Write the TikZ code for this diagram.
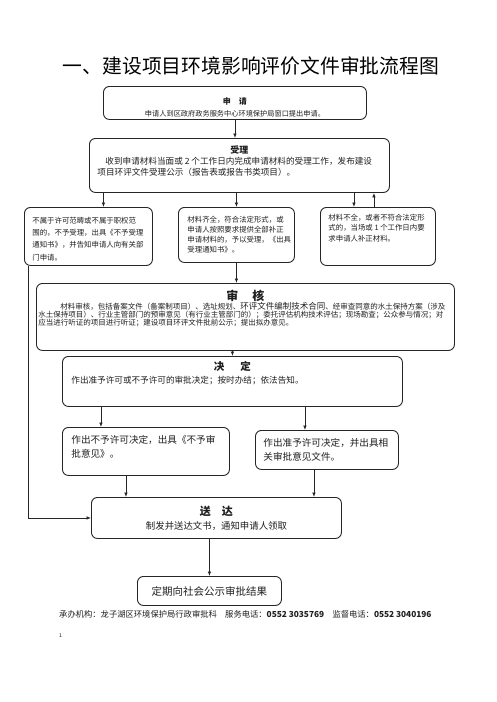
\documentclass[tikz,border=0pt]{standalone}
\usepackage{fontspec}
\setmainfont{Noto Sans CJK SC}
\usetikzlibrary{arrows.meta,calc}
\newcommand\fs[2]{\fontsize{#1pt}{#2pt}\selectfont}
\newcommand\bxc[3]{\parbox[c][#2pt][t]{#1pt}{#3}}
\begin{document}
\begin{tikzpicture}[x=1pt,y=-1pt,
  bx/.style={draw=black!85, line width=0.9pt, rounded corners=6pt, anchor=north west, inner sep=0pt, text=black!88},
  arr/.style={draw=black!85, line width=0.8pt, -{Latex[length=4.5pt,width=3.6pt]}},
  ln/.style={draw=black!85, line width=0.8pt}]
\useasboundingbox (0,0) rectangle (496,702);
\fill[white] (0,0) rectangle (496,702);

\node[anchor=base, inner sep=0pt] (title) at (251,73) {\fs{19.8}{20}一、建设项目环境影响评价文件审批流程图};

\node[bx] (n1) at (103,86) {\bxc{263}{33}{%
  \fs{8}{12}\centerline{\rule{0pt}{18pt}\textbf{申\quad 请}}%
  \fs{7.2}{12}\centerline{申请人到区政府政务服务中心环境保护局窗口提出申请。}}};

\node[bx] (n2) at (89,138) {\bxc{300}{54}{%
  \fs{9}{11}\centerline{\rule{0pt}{15pt}\textbf{受理}}%
  \fs{8.6}{11}\leftskip=8pt\noindent\hspace*{8pt}收到申请材料当面或 2 个工作日内完成申请材料的受理工作，发布建设\\
  项目环评文件受理公示（报告表或报告书类项目）。\par}};

\node[bx] (b1) at (24,207) {\bxc{128}{58}{%
  \fs{7.4}{12.2}\leftskip=8pt\noindent\rule{0pt}{16pt}不属于许可范畴或不属于职权范\\
  围的，不予受理，出具《不予受理\\
  通知书》，并告知申请人向有关部\\
  门申请。\par}};

\node[bx] (b2) at (178,207) {\bxc{116}{55}{%
  \fs{7.4}{10}\leftskip=9pt\noindent\rule{0pt}{15pt}材料齐全，符合法定形式，或\\
  申请人按照要求提供全部补正\\
  申请材料的，予以受理，《出具\\
  受理通知书》。\par}};

\node[bx] (b3) at (320,207) {\bxc{115}{58}{%
  \fs{7.4}{10.5}\leftskip=8pt\noindent\rule{0pt}{13pt}材料不全，或者不符合法定形\\
  式的，当场或 1 个工作日内要\\
  求申请人补正材料。\par}};

\node[bx] (n4) at (36,283) {\bxc{418}{67}{%
  \fs{12}{12}\centerline{\rule{0pt}{17pt}\textbf{审\hspace{14pt}核}}%
  \fs{7.5}{7.6}\leftskip=2pt\noindent\hspace*{22pt}材料审核，包括备案文件（备案制项目）、选址规划、{\fs{8.5}{7.6}环评文件编制技术合同}、经审查同意的水土保持方案（涉及\\
  水土保持项目）、行业主管部门的预审意见（有行业主管部门的）；委托评估机构技术评估；现场勘查；公众参与情况；对\\
  应当进行听证的项目进行听证；建设项目环评文件批前公示；提出拟办意见。\par}};

\node[bx] (n5) at (62,356) {\bxc{340}{50}{%
  \fs{10.5}{14}\centerline{\rule{0pt}{14pt}\textbf{决\hspace{16pt}定}}%
  \fs{8.6}{13.5}\leftskip=9pt\noindent 作出准予许可或不予许可的审批决定；按时办结；依法告知。\par}};

\node[bx] (n6a) at (62,427) {\bxc{167}{48}{%
  \fs{9.6}{14.5}\leftskip=9pt\noindent\rule{0pt}{16pt}作出不予许可决定，出具《不予审\\
  批意见》。\par}};

\node[bx] (n6b) at (255,430) {\bxc{143}{39}{%
  \fs{9.6}{14}\leftskip=8pt\noindent\rule{0pt}{16pt}作出准予许可决定，并出具相\\
  关审批意见文件。\par}};

\node[bx] (n7) at (91,497) {\bxc{250}{41}{%
  \fs{11}{14}\centerline{\rule{0pt}{18pt}\textbf{送\quad 达}}%
  \fs{9.4}{14}\centerline{制发并送达文书，通知申请人领取}}};

\node[bx] (n8) at (137,576) {\bxc{144}{29}{%
  \fs{10.5}{14}\centerline{\rule{0pt}{19pt}定期向社会公示审批结果}}};

\node[anchor=base west, inner sep=0pt, text=black!88] (foot) at (59,617) {\fs{8.3}{10}承办机构：龙子湖区环境保护局行政审批科\quad 服务电话：\textbf{0552 3035769}\quad 监督电话：\textbf{0552 3040196}};
\node[anchor=base west, inner sep=0pt] (pg) at (59,637) {\fs{5}{6}1};

% connectors
\draw[arr] (n1.south) -- (n1.south |- n2.north);
\draw[arr] ([xshift=15pt]b1.north |- n2.south) -- ([xshift=15pt]b1.north);
\draw[arr] (b2.north |- n2.south) -- (b2.north);
\draw[arr] ([xshift=-24pt]b3.north |- n2.south) -- ([xshift=-24pt]b3.north);
\draw[arr] ([xshift=-4pt]b3.north) -- ([xshift=-4pt]b3.north |- n2.south);
\draw[arr] ([xshift=4pt]b1.south west) |- (n7.west);
\draw[arr] (b2.south) -- (b2.south |- n4.north);
\draw[arr] (n5.north |- n4.south) -- (n5.north);
\draw[arr] ([xshift=-45pt]n6a.north |- n5.south) -- ([xshift=-45pt]n6a.north);
\draw[arr] ([xshift=-22pt]n6b.north |- n5.south) -- ([xshift=-22pt]n6b.north);
\draw[arr] ([xshift=-20pt]n6a.south) -- ([xshift=-20pt]n6a.south |- n7.north);
\draw[arr] ([xshift=-13pt]n6b.south) -- ([xshift=-13pt]n6b.south |- n7.north);
\draw[arr] (n7.south -| n8.north) -- (n8.north);
\end{tikzpicture}
\end{document}
